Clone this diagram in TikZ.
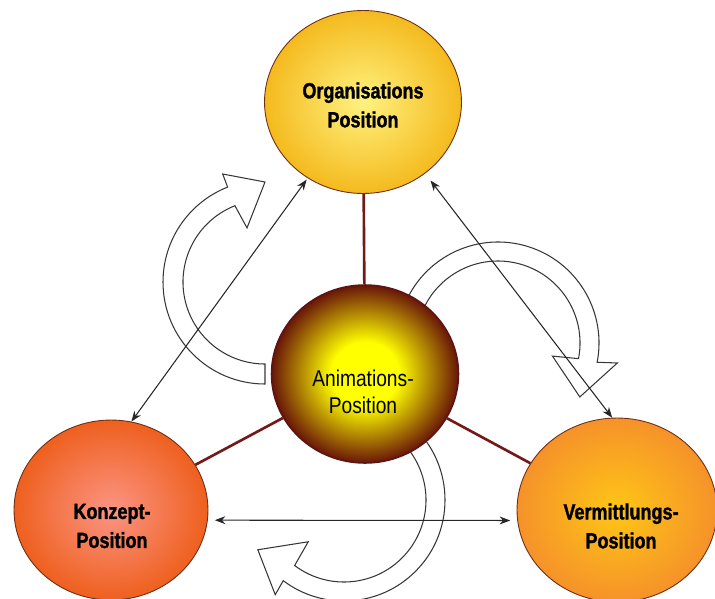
\documentclass[tikz,border=0pt]{standalone}
\usepackage{fontspec}
\setmainfont{Liberation Sans}
\newfontfamily\posfont[FakeStretch=0.84]{Liberation Sans}
\newfontfamily\heavyfont[FakeStretch=0.82, FakeBold=1.4]{Liberation Sans}
\usetikzlibrary{shapes.geometric}
\usetikzlibrary{calc}
\usetikzlibrary{arrows.meta}

\definecolor{orgin}{RGB}{255,242,128}
\definecolor{orgout}{RGB}{244,186,30}
\definecolor{aniin}{RGB}{255,255,0}
\definecolor{aniout}{RGB}{105,22,8}
\definecolor{konin}{RGB}{252,148,132}
\definecolor{konout}{RGB}{238,96,30}
\definecolor{verin}{RGB}{255,198,22}
\definecolor{verout}{RGB}{245,146,42}
\definecolor{rimcol}{RGB}{110,45,20}
\definecolor{linkred}{RGB}{115,25,25}
\definecolor{hollowcol}{RGB}{55,55,55}

\pgfdeclareradialshading{anishading}{\pgfpoint{0bp}{0bp}}{color(0bp)=(aniin); color(9bp)=(aniin); color(25bp)=(aniout); color(50bp)=(aniout)}

\tikzset{
	posball/.style={ellipse, draw=rimcol, line width=0.5pt, inner sep=0pt},
	postext/.style={align=center, font={\heavyfont\bfseries\fontsize{12.5pt}{16.5pt}\selectfont}},
	link/.style={draw=linkred, line width=1.5pt},
	twoway/.style={{Stealth[length=6pt,width=4.5pt]}-{Stealth[length=6pt,width=4.5pt]}, line width=0.6pt, draw=black!85},
	hollow/.style={draw=hollowcol, line width=0.6pt, line join=miter}
}

\begin{document}
\begin{tikzpicture}[x=0.02cm, y=-0.02cm]
		\useasboundingbox (0,0) rectangle (715,598);
		\clip (0,0) rectangle (715,598);
		
		% centres of the three hollow turning arrows
		\coordinate (turnleft) at (265,282);
		\coordinate (turnright) at (498,343);
		\coordinate (turnbottom) at (344,500);
		
		\draw [hollow] ($(turnleft)+(90:102)$) arc [start angle=90, end angle=248.5, radius=102] -- ($(turnleft)+(248.6:116)$) -- ($(turnleft)+(270:100)$) -- ($(turnleft)+(251.6:57)$) -- ($(turnleft)+(248.5:82)$) arc [start angle=248.5, end angle=90, radius=82] -- cycle;
		\draw [hollow] ($(turnright)+(200:101)$) arc [start angle=200, end angle=371, radius=101] -- ($(turnright)+(369.5:121)$) -- ($(turnright)+(393.4:98)$) -- ($(turnright)+(373.5:56)$) -- ($(turnright)+(371:82)$) arc [start angle=371, end angle=200, radius=82] -- cycle;
		\draw [hollow] ($(turnbottom)+(-45:101)$) arc [start angle=-45, end angle=127, radius=101] -- ($(turnbottom)+(126:117)$) -- ($(turnbottom)+(150:99.5)$) -- ($(turnbottom)+(130.6:55)$) -- ($(turnbottom)+(127:82)$) arc [start angle=127, end angle=-45, radius=82] -- cycle;
		
		\node at (363,102) [posball, minimum width=3.94cm, minimum height=3.66cm, shading=radial, inner color=orgin, outer color=orgout] (org) {};
		\node at (365,374) [posball, draw=linkred!80!black, line width=0.9pt, minimum width=3.74cm, minimum height=3.56cm, shading=anishading] (ani) {};
		\node at (111,510) [posball, minimum width=3.88cm, minimum height=3.6cm, shading=radial, inner color=konin, outer color=konout] (kon) {};
		\node at (617,510) [posball, minimum width=4cm, minimum height=3.68cm, shading=radial, inner color=verin, outer color=verout] (ver) {};
		
		\node at (363,105) [postext] (orgtext) {Organisations\\Position};
		\node at (363,392) [postext, font={\posfont\fontsize{13pt}{15.5pt}\selectfont}] (anitext) {Animations-\\Position};
		\node at (112,526) [postext] (kontext) {Konzept-\\Position};
		\node at (621,526) [postext] (vertext) {Vermittlungs-\\Position};
		
		\draw [link] (ani) -- (org);
		\draw [link] (ani) -- (kon);
		\draw [link] (ani) -- (ver);
		
		\draw [twoway, shorten >=1pt] (kon.77) -- (org.234.4);
		\draw [twoway, shorten <=5pt] (org.311.6) -- (ver.93.7);
		\draw [twoway, shorten <=4pt, shorten >=4pt] (kon.-6) -- (ver.186);
		
		\end{tikzpicture}
\end{document}
